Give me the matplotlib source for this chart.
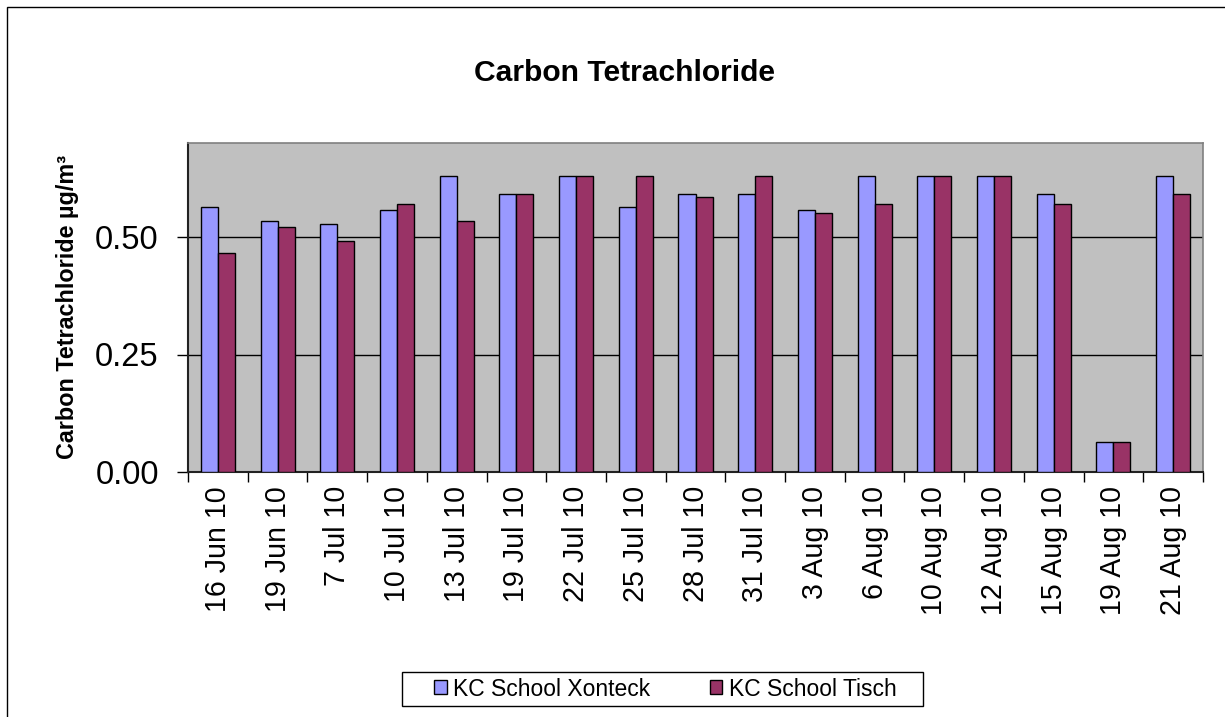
import matplotlib
matplotlib.use("Agg")
import matplotlib.pyplot as plt
import numpy as np
from matplotlib.patches import Rectangle
from matplotlib.patches import Patch

plt.rcParams['font.family'] = ['Liberation Sans', 'DejaVu Sans']

dates = ["16 Jun 10", "19 Jun 10", "7 Jul 10", "10 Jul 10", "13 Jul 10", "19 Jul 10",
         "22 Jul 10", "25 Jul 10", "28 Jul 10", "31 Jul 10", "3 Aug 10", "6 Aug 10",
         "10 Aug 10", "12 Aug 10", "15 Aug 10", "19 Aug 10", "21 Aug 10"]
xonteck = [0.564, 0.533, 0.527, 0.558, 0.629, 0.592, 0.629, 0.564, 0.592, 0.592,
           0.558, 0.629, 0.629, 0.629, 0.592, 0.064, 0.629]
tisch = [0.467, 0.521, 0.491, 0.570, 0.533, 0.592, 0.629, 0.629, 0.585, 0.629,
         0.552, 0.570, 0.629, 0.629, 0.570, 0.064, 0.592]
series_names = ["KC School Xonteck", "KC School Tisch"]
yticks = [0.00, 0.25, 0.50]
ytick_labels = ["0.00", "0.25", "0.50"]

W, H = 1225, 717
fig = plt.figure(figsize=(W / 100, H / 100), dpi=100)
ax = fig.add_axes([188 / W, 1 - 472 / H, (1203 - 188) / W, (472 - 143) / H])

c1, c2 = "#9999FF", "#993366"
x = np.arange(len(dates))
bw = 0.285
ax.bar(x - bw / 2, xonteck, bw, color=c1, edgecolor="black", linewidth=1, zorder=3)
ax.bar(x + bw / 2, tisch, bw, color=c2, edgecolor="black", linewidth=1, zorder=3)

ax.set_facecolor("#C0C0C0")
ax.set_xlim(-0.5, len(dates) - 0.5)
ax.set_ylim(0, 0.70)

for yv in [0.25, 0.50]:
    ax.axhline(yv, color="black", linewidth=1, zorder=1)

ax.set_yticks(yticks)
ax.set_yticklabels(ytick_labels, fontsize=23.5)
ax.tick_params(axis="y", direction="out", length=8, width=1, pad=13)

ax.set_xticks(x)
ax.set_xticklabels(dates, rotation=90, fontsize=20.6, va="top", ha="center")
ax.tick_params(axis="x", which="major", length=0, pad=10)
ax.set_xticks(np.arange(len(dates) + 1) - 0.5, minor=True)
ax.tick_params(axis="x", which="minor", direction="out", length=7, width=1)

for side in ["top", "right"]:
    ax.spines[side].set_color("#808080")
    ax.spines[side].set_linewidth(1.2)
for side in ["left", "bottom"]:
    ax.spines[side].set_color("#222222")
    ax.spines[side].set_linewidth(1.5)

fig.text(624 / W, 1 - 73 / H, "Carbon Tetrachloride", fontsize=21.6, fontweight="bold",
         ha="center", va="center")
fig.text(68 / W, 1 - 307 / H, "Carbon Tetrachloride µg/m³", fontsize=16.8,
         fontweight="bold", rotation=90, ha="center", va="center")

handles = [Patch(facecolor=c1, edgecolor="black", linewidth=1),
           Patch(facecolor=c2, edgecolor="black", linewidth=1)]
leg = fig.legend(handles, series_names, loc="center left", bbox_to_anchor=(434 / W, 1 - 689 / H),
                 ncol=2, fontsize=16.5, frameon=False, handlelength=0.55,
                 handleheight=0.55, handletextpad=0.28, columnspacing=2.6, borderpad=0,
                 borderaxespad=0)

fig.canvas.draw()
bb = leg.get_window_extent()
x0 = (bb.x0 - 32) / W
x1 = (bb.x1 + 26) / W
fig.patches.append(Rectangle((x0, 1 - 706 / H), x1 - x0, 34 / H, transform=fig.transFigure,
                             fill=False, edgecolor="black", linewidth=1))

fig.patches.append(Rectangle((7 / W, -0.2), 1.5, 1.2 - 7 / H, transform=fig.transFigure,
                             fill=False, edgecolor="black", linewidth=1))

fig.savefig("out.png", dpi=100, facecolor="white")
